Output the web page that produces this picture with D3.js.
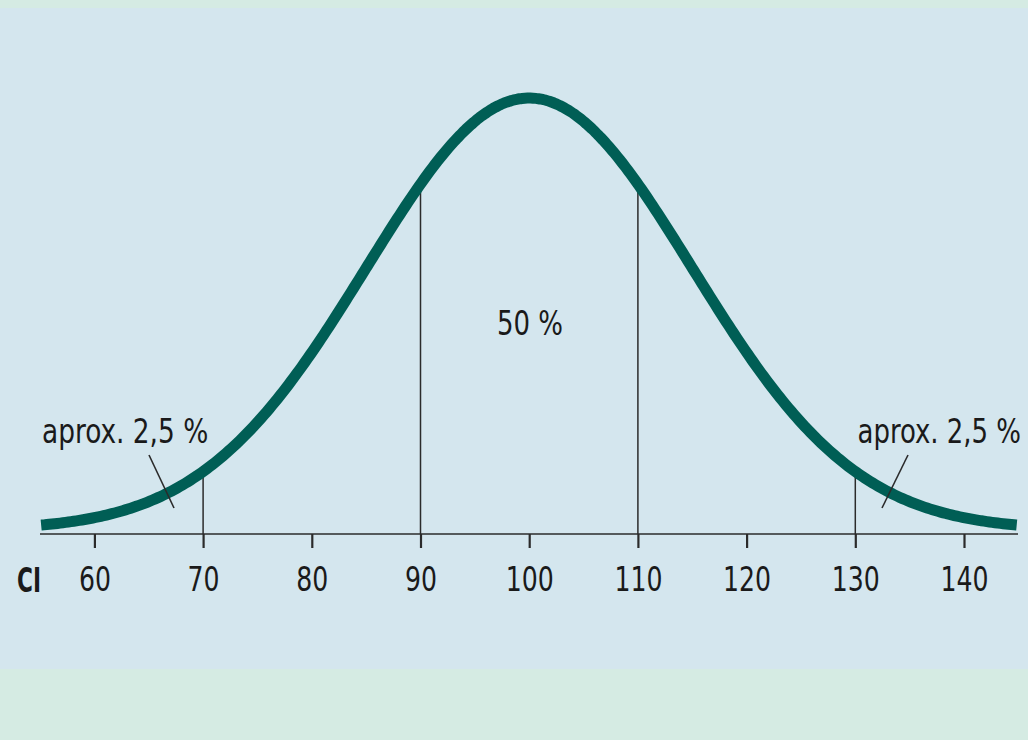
<!DOCTYPE html>
<html><head><meta charset="utf-8">
<script src="https://cdn.jsdelivr.net/npm/d3@7"></script>
<style>
html,body{margin:0;padding:0;background:#d5ebe3;}
svg{display:block;}
text{font-family:"Liberation Sans Narrow","DejaVu Sans Condensed","Arial Narrow",sans-serif;fill:#1a1a1a;}
</style></head><body>
<script>
// Data
const ticks = [60, 70, 80, 90, 100, 110, 120, 130, 140];
const markers = [70, 90, 110, 130];
const mean = 100, sd = 15;
const domain = [55.1, 145.0];
const axisLabel = "CI";
const centerLabel = "50 %";
const tailLabels = ["aprox. 2,5 %", "aprox. 2,5 %"];

const W = 1028, H = 740;
const svg = d3.select("body").append("svg").attr("width", W).attr("height", H);
svg.append("rect").attr("x",0).attr("y",0).attr("width",W).attr("height",H).attr("fill","#d5ebe3");
svg.append("rect").attr("x",0).attr("y",8).attr("width",W).attr("height",661).attr("fill","#d4e6ee");

const x = d3.scaleLinear().domain([60,140]).range([94.4, 964]);
const pdf = v => Math.exp(-0.5*Math.pow((v-mean)/sd,2));
const y = d3.scaleLinear().domain([0,1]).range([530, 98]);
const axisY = 534;

// vertical markers
svg.selectAll("line.m").data(markers).enter().append("line")
  .attr("x1", d=>x(d)).attr("x2", d=>x(d))
  .attr("y1", axisY).attr("y2", d=>y(pdf(d)))
  .attr("stroke","#2b2b2b").attr("stroke-width",1.5);

// axis
const axis = d3.axisBottom(x).tickValues(ticks).tickSize(14).tickPadding(20).tickFormat(d3.format("d"));
const g = svg.append("g").attr("transform",`translate(0,${axisY})`).call(axis);
g.select(".domain").remove();
g.append("line").attr("x1",40).attr("x2",1018).attr("y1",0).attr("y2",0).attr("stroke","#2b2b2b").attr("stroke-width",1.6);
g.selectAll(".tick line").attr("stroke","#2b2b2b").attr("stroke-width",2.2);
g.selectAll(".tick text").attr("font-size",33).attr("fill","#1a1a1a")
  .style("font-family","'Liberation Sans Narrow','DejaVu Sans Condensed',sans-serif")
  .each(function(){ const t=d3.select(this); const n=t.text().length; t.attr("textLength", n===3?48:32).attr("lengthAdjust","spacingAndGlyphs"); });

svg.append("text").attr("x",17).attr("y",592).attr("font-size",34).attr("font-weight","bold")
  .attr("textLength",24).attr("lengthAdjust","spacingAndGlyphs").text(axisLabel);

// curve
const pts = d3.range(domain[0], domain[1]+0.01, 0.25);
svg.append("path").datum(pts)
  .attr("d", d3.line().x(d=>x(d)).y(d=>y(pdf(d))).curve(d3.curveBasis))
  .attr("fill","none").attr("stroke","#005e55").attr("stroke-width",11);

// callouts
svg.append("line").attr("x1",149).attr("y1",455).attr("x2",174).attr("y2",508).attr("stroke","#2b2b2b").attr("stroke-width",1.6);
svg.append("line").attr("x1",908).attr("y1",455).attr("x2",882).attr("y2",508).attr("stroke","#2b2b2b").attr("stroke-width",1.6);
svg.append("g").attr("transform","translate(42,443) scale(0.89,1)")
  .append("text").attr("x",0).attr("y",0).attr("font-size",33).text(tailLabels[0]);
svg.append("g").attr("transform","translate(1021,443) scale(0.875,1)")
  .append("text").attr("x",0).attr("y",0).attr("font-size",33).attr("text-anchor","end").text(tailLabels[1]);
svg.append("text").attr("x",497).attr("y",335).attr("font-size",33)
  .attr("textLength",66).attr("lengthAdjust","spacingAndGlyphs").text(centerLabel);
</script>
</body></html>
